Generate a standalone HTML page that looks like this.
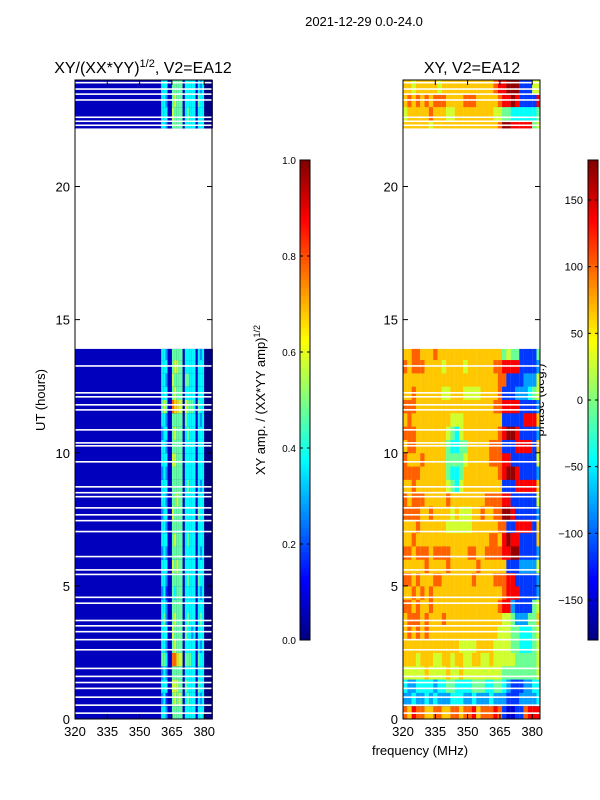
<!DOCTYPE html>
<html><head><meta charset="utf-8"><style>
body{margin:0;background:#fff;}
svg{display:block;font-family:"Liberation Sans","DejaVu Sans",sans-serif;}
</style></head><body>
<svg id="fig" width="600" height="800" viewBox="0 0 600 800">
<text x="364" y="26" font-size="13" text-anchor="middle">2021-12-29 0.0-24.0</text>
<text x="143" y="73" font-size="16" text-anchor="middle">XY/(XX*YY)<tspan font-size="11" dy="-6">1/2</tspan><tspan dy="6">, V2=EA12</tspan></text>
<text x="472" y="73" font-size="16" text-anchor="middle">XY, V2=EA12</text>
<text transform="translate(45,400) rotate(-90)" font-size="13" text-anchor="middle">UT (hours)</text>
<text transform="translate(265,400) rotate(-90)" font-size="13" text-anchor="middle">XY amp. / (XX*YY amp)<tspan font-size="9" dy="-5">1/2</tspan></text>
<text transform="translate(544,400) rotate(-90)" font-size="13" text-anchor="middle">phase (deg.)</text>
<text x="420" y="755" font-size="13" text-anchor="middle">frequency (MHz)</text>
<g id="left"></g>
<g id="right"></g>
<g id="cb"></g>
<g id="axes"></g>
</svg>
<script>
// ---- data ----
const rowStarts = [0,0.5,1,1.5,2,2.5,3,3.5,4,4.5,5,5.5,6,6.5,7,7.5,8,8.5,9,9.5,10,10.5,11,11.5,12,12.5,13,13.5,22.2,22.5,23,23.5];
const rowEnds   = [0.5,1,1.5,2,2.5,3,3.5,4,4.5,5,5.5,6,6.5,7,7.5,8,8.5,9,9.5,10,10.5,11,11.5,12,12.5,13,13.5,13.9,22.5,23,23.5,24];
// amplitude digits for 1 MHz bins from 360 to 384 (others ~0.05); digit d -> d/10 - 0.03
const ampRows = [
"443115555514444414440000","342115656514544414340000","444116665515444415440000","343115555514444414440000",
"554118876615554415440000","443115655514444414340000","444116555515443414440000","453115655514544414540000",
"443115555514444414440000","342115455514444414340000","443115555514544415440000","444116565514444414440000",
"343115555514444414340000","444115655514544414440000","443115555514444414440000","344116555514444415440000",
"443115565514444414440000","444115555514544414340000","343115555514444414440000","444116655514444414440000",
"443115555514444414440000","344115655514544414440000","443115555515444414340000","565118776616555415440000",
"444115655514444414440000","443116555515544414440000","444115665514444414440000","443115555514444414340000",
"443115555514444414440000","444116555514544414440000","443115655514444415440000","444115555514444414340000"];
// phase digits, 32 bins of 2 MHz from 320 to 384; digit d -> -180+(d+0.5)*36 deg
const phaseRows = [
"76877667766776778677787100117888","22322323222333223222322211122223","32233332334433334443344321112233","55555655556556555555555444444445",
"66656665566566556655655555444445","66666666666665555666655554433345","67676766666666666666665554433345","67776766676666666666666554222446",
"77676676666666666666667882111145","66767676666666666666666788811112","77676667766666667666677788111112","66666766667666666766666611122225",
"77677767777666677667777889911112","66766666666666666666776898811116","66676666665555556666667711888816","77776676666565556676677998111112",
"76777666667666666667777881111115","66766666665435666666666111888886","77776666664334666666667899811112","76667666664444566666777881111115",
"67766666664334466666777111888816","77766666665435666666667899811112","67666666666555666666666111118886","77766666666666666666677888811112",
"66766666655666555566667111222345","66666666666666666666667711112225","76777666656666566666677888811112","66776667666666666666666454411114",
"66666656666666666666667998888845","56666676665566666666655443333334","67676767776666777666667889811118","66566666566666666666678899911155"];
// hours with missing (white) integrations
const gaps = [0.22,0.52,0.82,1.15,1.37,1.6,1.9,2.6,2.98,3.28,3.5,3.7,4.35,4.57,5.43,5.6,6.1,7.04,7.45,7.67,7.93,8.35,8.5,8.72,9.66,10.26,10.37,10.86,11.61,11.8,12.1,12.25,13.26,22.3,22.45,22.6,23.25,23.47,23.66,23.9];
const xTicks = [320,335,350,365,380];
const yTicks = [0,5,10,15,20];
const ampTicks = [0,0.2,0.4,0.6,0.8,1.0];
const phaseTicks = [-150,-100,-50,0,50,100,150];

// ---- geometry ----
const NS='http://www.w3.org/2000/svg';
const T=80,B=719;
const yS=h=>B-(B-T)*h/24;
const xS=(x0)=>f=>x0+(f-320)*2.1533;
function jet(v){v=Math.max(0,Math.min(1,v));
 const c=x=>Math.round(255*Math.max(0,Math.min(1,x)));
 return `rgb(${c(1.5-Math.abs(4*v-3))},${c(1.5-Math.abs(4*v-2))},${c(1.5-Math.abs(4*v-1))})`;}
function rect(g,x,y,w,h,fill){const r=document.createElementNS(NS,'rect');
 r.setAttribute('x',x);r.setAttribute('y',y);r.setAttribute('width',w);r.setAttribute('height',h);r.setAttribute('fill',fill);
 g.appendChild(r);return r;}
function txt(g,x,y,s,size,anchor){const t=document.createElementNS(NS,'text');
 t.setAttribute('x',x);t.setAttribute('y',y);t.setAttribute('font-size',size);t.setAttribute('text-anchor',anchor);t.textContent=s;g.appendChild(t);return t;}
function line(g,x1,y1,x2,y2,col,w){const l=document.createElementNS(NS,'line');
 l.setAttribute('x1',x1);l.setAttribute('y1',y1);l.setAttribute('x2',x2);l.setAttribute('y2',y2);l.setAttribute('stroke',col);l.setAttribute('stroke-width',w||1);g.appendChild(l);}

const L=document.getElementById('left'),R=document.getElementById('right');
const xl=xS(75),xr=xS(403);
rowStarts.forEach((t0,i)=>{
 const y0=yS(rowEnds[i]),y1=yS(t0);
 let bg=rect(L,75,y0,137,y1-y0+0.5,jet(0.06));
 
 const a=ampRows[i];
 for(let j=0;j<a.length;j++){const f=360+j;
  const c=rect(L,xl(f),y0,2.2,y1-y0+0.5,jet(+a[j]/10-0.03));
  
  }
 const p=phaseRows[i];
 for(let j=0;j<p.length;j++){const f=320+2*j;
  const c=rect(R,xr(f),y0,Math.min(4.4,540-xr(f)),y1-y0+0.5,jet((+p[j]+0.8)/10));
  
  }
});
gaps.forEach(h=>{
 const a=rect(L,75,yS(h)-0.8,137,1.6,'#fff');
 const b=rect(R,403,yS(h)-0.8,137,1.6,'#fff');
});

// colorbars
const C=document.getElementById('cb');
for(let k=0;k<120;k++){const v=k/120;
 rect(C,300,640-(k+1)*4,10,4.3,jet(v+1/240));
 rect(C,588,640-(k+1)*4,10,4.3,jet(v+1/240));}
[300,588].forEach(x=>{const r=rect(C,x,160,10,480,'none');r.setAttribute('stroke','#000');});
ampTicks.forEach(v=>{const y=640-480*v;line(C,300,y,303,y,'#000');line(C,307,y,310,y,'#000');
 txt(C,296,y+4,v.toFixed(1),10,'end');});
phaseTicks.forEach(v=>{const y=640-480*(v+180)/360;line(C,588,y,591,y,'#000');line(C,595,y,598,y,'#000');
 txt(C,583,y+4,String(v).replace('-','\u2212'),11,'end');});

// axes frames + ticks
const A=document.getElementById('axes');
[75,403].forEach((x0,pi)=>{
 const fr=rect(A,x0,T,137,B-T,'none');fr.setAttribute('stroke','#000');
 const xs=xS(x0);
 xTicks.forEach(f=>{const x=xs(f);line(A,x,B,x,B-5,'#000');line(A,x,T,x,T+5,'#000');txt(A,x,736,String(f),13,'middle');});
 yTicks.forEach(h=>{const y=yS(h);line(A,x0,y,x0+5,y,'#000');line(A,x0+137,y,x0+132,y,'#000');txt(A,x0-5,y+5,String(h),13,'end');});
});
</script>
</body></html>
